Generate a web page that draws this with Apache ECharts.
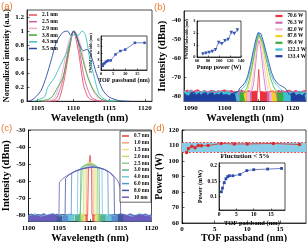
<!DOCTYPE html>
<html><head><meta charset="utf-8">
<script src="https://cdn.jsdelivr.net/npm/echarts@6/dist/echarts.min.js"></script>
<style>html,body{margin:0;padding:0;background:#fff}#c{width:307px;height:242px}</style>
</head><body><div id="c"></div>
<script>
const SERIF='"Liberation Serif","Times New Roman",serif';
const fl=(x0,dx,vals)=>vals.map((v,i)=>[+(x0+i*dx).toFixed(2),v]);

// ---------- (a) normalized spectra ----------
const aNames=['2.1 nm','2.5 nm','2.9 nm','3.8 nm','4.3 nm','5.5 nm'];
const aColors=['#e5505c','#d25fa3','#f2a9cc','#3aa83a','#3dbfc4','#2b4aa6'];
const a21=[[1106.5,0],[1107.5,0.005],[1108,0.03],[1108.7,0.3],[1109.4,0.71],[1110,1],[1110.7,0.71],[1111.4,0.24],[1112.1,0.05],[1113,0.01],[1114.5,0]];
const a25=[[1106,0],[1107.5,0.03],[1108.5,0.3],[1109.3,0.75],[1109.8,0.95],[1110.1,1],[1110.4,0.96],[1110.8,0.75],[1111.6,0.3],[1112.5,0.06],[1113.5,0.01],[1115,0]];
const a29=[[1105.5,0],[1107.2,0.03],[1108.2,0.3],[1109.2,0.8],[1109.8,0.97],[1110.1,1],[1110.5,0.95],[1111,0.8],[1112,0.35],[1113,0.1],[1114,0.02],[1115.5,0]];
const a38=[[1105,0],[1106.2,0.02],[1106.9,0.05],[1107.8,0.2],[1108.5,0.33],[1109.1,0.6],[1109.5,0.8],[1109.8,0.95],[1110.1,1],[1110.6,0.89],[1111.2,0.64],[1111.9,0.38],[1112.8,0.16],[1113.9,0.03],[1115,0.005],[1116.5,0]];
const a43=[[1104.5,0],[1105.3,0.03],[1106,0.07],[1106.4,0.2],[1107.3,0.33],[1108.2,0.52],[1109.1,0.71],[1109.8,0.93],[1110.3,0.96],[1110.6,0.93],[1111.2,1],[1111.5,0.98],[1111.8,0.9],[1112.3,0.6],[1113,0.31],[1113.6,0.1],[1114.5,0.02],[1116,0]];
const a55=[[1103.6,0],[1104.2,0.02],[1104.8,0.07],[1105.5,0.16],[1106.2,0.35],[1106.9,0.59],[1107.6,0.84],[1108.5,0.98],[1109.2,1],[1109.6,0.94],[1110,1],[1110.4,0.93],[1110.7,0.84],[1111.4,0.72],[1111.9,0.74],[1112.5,0.64],[1113.2,0.4],[1114.1,0.16],[1115,0.06],[1116.4,0.01],[1118,0]];
const aCurves=[a21,a25,a29,a38,a43,a55];
const tofPass=[0.7,1,1.5,2,2.5,3,4,6,8,10,14,18];
const fwhmA=[2.1,2.4,2.5,2.7,2.8,2.9,2.9,3.8,4.3,4.5,5.5,5.5];

// ---------- (b) power-dependent spectra ----------
const bNames=['70.6 W','76.3 W','82.0 W','87.8 W','99.4 W','122.3 W','133.4 W'];
const bColors=['#e8323c','#cf6cb0','#f2b4d4','#f2d21e','#3cac3c','#3cc0d2','#1f3f9f'];
const pumpB=[70.6,76.3,82.0,87.8,93.6,99.4,105.1,110.8,116.6,122.3,127.9,133.4];
const fwhmB=[0.25,0.32,0.38,0.45,0.6,1.2,1.1,1.35,1.45,2.05,1.95,2.25];
const b1L=fl(1088,1,[-77.8,-77.0,-78.2,-77.5,-76.8,-77.9,-77.3,-78.0,-77.1,-77.7,-78.3,-77.4,-76.9,-77.8,-77.2,-78.1,-77.6,-77.0,-77.9,-77.3,-78.0,-77.5]).concat([[1109.3,-77.2],[1109.7,-77.9]]);
const b1P=[[1109.8,-73],[1110.05,-66],[1110.3,-73]];
const b1R=[[1110.4,-77.6],[1110.8,-77.1]].concat(fl(1111.2,0.5,[-77.9,-77.3,-78.1,-77.6]),fl(1114,1,[-77.4,-77.9,-77.1,-78.2,-77.6,-77.0,-77.8,-77.3,-78.0,-77.5,-77.2]));
const b2L=fl(1088,1,[-77.3,-78.1,-76.9,-77.8,-77.4,-78.3,-77.1,-77.9,-77.5,-78.4,-77.2,-77.7,-78.0,-77.3,-78.2,-77.6,-77.9,-77.4,-78.1,-77.7]).concat([[1107.5,-78.0],[1108,-77.5]]);
const b2P=[[1108.5,-74],[1109.1,-64],[1109.6,-55],[1110.1,-50.5],[1110.5,-53],[1111,-61],[1111.6,-70.5],[1112.1,-77]];
const b2R=fl(1112.5,0.5,[-78.2,-77.6,-78.0]).concat(fl(1114,1,[-77.4,-78.3,-77.7,-77.1,-78.0,-77.5,-78.2,-77.3,-77.9,-77.6,-78.1]));
const b3L=fl(1106.5,0.5,[-78.1,-77.5,-78.3]);
const b3P=[[1107.9,-75],[1108.5,-68],[1109.2,-58],[1109.7,-51.5],[1110.1,-48.8],[1110.5,-50],[1111.1,-56.5],[1111.7,-65],[1112.3,-72.5],[1112.8,-77]];
const b3R=fl(1113.2,0.5,[-78.4,-77.7,-78.2]);
const b4L=fl(1105.5,0.5,[-77.9,-78.4,-77.7]);
const b4P=[[1107,-76],[1107.6,-71.5],[1108.3,-64],[1109.1,-55],[1109.7,-49.5],[1110.1,-47.8],[1110.6,-48.8],[1111.3,-54.5],[1112,-62],[1112.7,-69.5],[1113.3,-75],[1113.7,-77.5]];
const b4R=fl(1114,0.5,[-78.3,-77.6,-78.5,-77.9]);
const b5L=fl(1104.5,0.5,[-78.3,-77.6,-78.5,-77.9]);
const b5P=[[1106.5,-76],[1107.2,-72],[1108,-65],[1108.8,-57.5],[1109.5,-51],[1110.1,-47.3],[1110.6,-48],[1111.3,-52.5],[1112,-58.5],[1112.8,-65],[1113.5,-70.5],[1114.3,-74.5],[1115,-77]];
const b5R=fl(1115.5,0.5,[-78.1,-77.4,-78.6,-77.8,-78.2]);
const b6L=fl(1088,1,[-77.6,-78.4,-77.2,-78.9,-77.8,-78.1,-77.4,-78.6,-77.9,-77.3,-78.5,-77.7,-78.2,-77.5,-78.8]).concat(fl(1102.5,0.5,[-77.9,-78.6,-77.8,-78.3,-77.6]));
const b6P=[[1105,-76.5],[1105.6,-75.5],[1106.4,-73.5],[1107.2,-68.5],[1108,-62],[1108.8,-55],[1109.5,-49.5],[1110.1,-46.6],[1110.6,-47.5],[1111.3,-51.5],[1112,-57],[1112.8,-63],[1113.6,-68.5],[1114.4,-72],[1115.2,-74],[1116,-75.5],[1116.8,-77]];
const b6R=fl(1117.3,0.5,[-78.2,-77.5,-78.7,-77.9,-78.4]).concat(fl(1120,1,[-77.6,-78.8,-77.4,-78.3,-77.9]));
const b7L=fl(1088,0.5,[-78.4,-79.6,-78.9,-80.2,-78.6,-79.3,-78.1,-79.8,-79.0,-78.5,-80.0,-78.8,-79.4,-78.3,-79.9,-78.7,-79.2,-78.4,-80.1,-79.0,-78.6,-79.5,-78.2,-79.7,-78.9,-79.3,-78.5,-80.0,-78.8,-79.1,-78.4,-78.9]);
const b7P=[[1104,-77.5],[1104.5,-75.8],[1105.2,-74.8],[1106,-73],[1106.8,-69.5],[1107.6,-63.5],[1108.4,-56.5],[1109.2,-50],[1109.8,-46.5],[1110.2,-45.6],[1110.7,-47],[1111.4,-51],[1112.2,-56.5],[1113,-62],[1113.8,-67.5],[1114.6,-71],[1115.4,-73],[1116.2,-74.2],[1117,-75],[1117.8,-75.8],[1118.5,-77.5],[1119,-79.3]];
const b7R=fl(1119.5,0.5,[-78.7,-79.5,-78.3,-79.9,-78.9,-79.2,-78.5,-80.0,-78.8,-79.3]);
const bSpec=[[b1L,b1P,b1R],[b2L,b2P,b2R],[b3L,b3P,b3R],[b4L,b4P,b4R],[b5L,b5P,b5R],[b6L,b6P,b6R],[b7L,b7P,b7R]];

// ---------- (c) filtered spectra ----------
const cNames=['0.7 nm','1.0 nm','1.5 nm','2.0 nm','2.5 nm ','3.0 nm','4.0 nm','6.0 nm','8.0 nm','10 nm'];
const cColors=['#e63c3c','#f4a374','#f2e38a','#c5df6e','#8fd08c','#58b48e','#6fc6d8','#5a8fd2','#47559f','#6b5bbf'];
const c1L=[[1109.0,-80.3],[1109.3,-79.7],[1109.62,-80.1]];
const c1P=[[1109.68,-80],[1109.74,-55],[1109.86,-50],[1110,-45],[1110.14,-50],[1110.26,-55],[1110.32,-80]];
const c1R=[[1110.38,-79.8],[1110.7,-80.3],[1111,-79.9]];
const c2L=[[1109.0,-79.9],[1109.25,-80.4],[1109.42,-79.7]];
const c2P=[[1109.47,-80],[1109.53,-50.5],[1109.8,-49],[1110,-48.2],[1110.2,-49],[1110.47,-50.5],[1110.53,-80]];
const c2R=[[1110.58,-80.2],[1110.9,-79.6],[1111.2,-80.1]];
const c3L=[[1108.7,-80.2],[1109,-79.7],[1109.17,-80.1]];
const c3P=[[1109.22,-80],[1109.28,-50.5],[1109.7,-49.2],[1110,-48.8],[1110.3,-49.2],[1110.72,-50.6],[1110.78,-80]];
const c3R=[[1110.83,-79.8],[1111.2,-80.3],[1111.5,-79.9]];
const c4L=[[1108.4,-79.8],[1108.7,-80.3],[1108.92,-79.6]];
const c4P=[[1108.97,-80],[1109.03,-50.8],[1109.5,-49.8],[1110,-49.4],[1110.5,-49.8],[1110.97,-51],[1111.03,-80]];
const c4R=[[1111.08,-80.1],[1111.5,-79.7],[1111.8,-80.2]];
const c5L=[[1108,-80.1],[1108.4,-79.6],[1108.67,-80.2]];
const c5P=[[1108.72,-80],[1108.78,-51.5],[1109.4,-50.4],[1110,-50],[1110.6,-50.4],[1111.22,-51.6],[1111.28,-80]];
const c5R=[[1111.33,-79.7],[1111.7,-80.3],[1112.1,-79.9]];
const c6L=[[1107.5,-79.9],[1108,-80.3],[1108.42,-79.7]];
const c6P=[[1108.47,-80],[1108.53,-52.2],[1109.2,-51],[1110,-50.5],[1110.8,-51],[1111.47,-52.3],[1111.53,-80]];
const c6R=[[1111.58,-80.2],[1112.1,-79.8],[1112.6,-80.4]];
const c7L=fl(1100,1,[-80.6,-79.5,-80.8,-80.2,-79.4,-80.7,-80.1]).concat([[1106.5,-80.2],[1107,-79.6],[1107.45,-80.1]]);
const c7P=[[1107.95,-80],[1108.02,-53.8],[1108.8,-52.5],[1109.6,-51.8],[1110.4,-51.5],[1111.2,-51.9],[1111.95,-53.2],[1112.02,-80]];
const c7R=[[1112.5,-79.8],[1113,-80.4],[1113.5,-79.9]].concat(fl(1114,1,[-80.6,-79.4,-80.3,-80.8,-79.5,-80.2,-80.7]));
const c8L=[[1105.5,-79.9],[1106,-80.4],[1106.45,-79.7]];
const c8P=[[1106.95,-80],[1107.02,-55.5],[1107.7,-54],[1108.5,-53],[1109.5,-52.2],[1110.5,-51.8],[1111.5,-52.2],[1112.3,-53.2],[1112.9,-55],[1112.98,-80]];
const c8R=[[1113.5,-80.2],[1114,-79.7],[1114.5,-80.3]];
const c9L=[[1104.5,-79.7],[1105,-80.3],[1105.45,-79.8]];
const c9P=[[1105.95,-80],[1106.02,-58.5],[1106.6,-56.5],[1107.5,-54.6],[1108.5,-53.2],[1109.5,-52.3],[1110.5,-51.9],[1111.5,-52.3],[1112.5,-53.4],[1113.3,-55.3],[1113.9,-58],[1113.98,-80]];
const c9R=[[1114.5,-80.1],[1115,-79.6],[1115.5,-80.4]];
const c10L=fl(1100,0.5,[-80.4,-79.6,-80.8,-79.9,-80.2,-79.4,-80.6,-80.0,-79.7,-80.3]);
const c10P=[[1104.95,-80],[1105.02,-61],[1105.6,-58.6],[1106.5,-56.3],[1107.5,-54.5],[1108.5,-53.2],[1109.5,-52.4],[1110.5,-52],[1111.5,-52.4],[1112.5,-53.5],[1113.3,-55.2],[1114,-57.5],[1114.6,-60.5],[1114.92,-64],[1114.98,-80]];
const c10R=fl(1115.5,0.5,[-79.8,-80.5,-79.5,-80.2,-80.7,-79.9,-80.3,-79.6,-80.5,-80.0]);
const cSpec=[[c1L,c1P,c1R],[c2L,c2P,c2R],[c3L,c3P,c3R],[c4L,c4P,c4R],[c5L,c5P,c5R],[c6L,c6P,c6R],[c7L,c7P,c7R],[c8L,c8P,c8R],[c9L,c9P,c9R],[c10L,c10P,c10R]];

// ---------- (d) output power ----------
const powW=[105.5,108,109.5,108.5,110,109.8,110,111.3,111,111,111.3,110.6];
const powMW=[0.115,0.127,0.145,0.158,0.165,0.168,0.168,0.172,0.185,0.188,0.19,0.192];
const bandD=[105.8,111.8];

// ---------- helpers ----------
function axis(gi,min,max,ticks,o){
  o=o||{};
  return {type:'value',gridIndex:gi,min:min,max:max,
    axisLine:{show:true,onZero:false,lineStyle:{color:'#000',width:0.7}},
    axisTick:{show:true,inside:true,length:o.tl||2.5,customValues:ticks,lineStyle:{color:'#000',width:0.6}},
    axisLabel:{show:true,customValues:ticks,formatter:v=>String(v),margin:o.m||3,fontFamily:SERIF,fontWeight:'bold',fontSize:o.fs||7,color:'#000'},
    splitLine:{show:false},
    name:o.name||'',nameLocation:'middle',nameGap:o.gap||12,
    nameTextStyle:{fontFamily:SERIF,fontWeight:'bold',fontSize:o.ns||10,color:'#000'}};
}
function grid(l,t,w,h,bg){return {left:l,top:t,width:w,height:h,show:true,borderColor:'#000',borderWidth:0.7,backgroundColor:bg||'transparent',containLabel:false,outerBoundsMode:'none'};}
function spec(ai,name,color,L,P,R,w){
  return [
    {type:'line',xAxisIndex:ai,yAxisIndex:ai,data:L.concat([[P[0][0],null]],R),symbol:'none',
      lineStyle:{width:0.5,color:color},itemStyle:{color:color},areaStyle:{color:color,opacity:1,origin:'start'},silent:true},
    {type:'line',name:name,xAxisIndex:ai,yAxisIndex:ai,data:L.concat(P,R),symbol:'none',
      lineStyle:{width:w,color:color},itemStyle:{color:color},silent:true}
  ];
}
function legendOf(names,pos,o){
  return Object.assign({data:names,orient:'vertical',icon:'rect',itemWidth:8,itemHeight:1.5,itemGap:0.7,
    padding:0,selectedMode:false,formatter:n=>n.trim(),
    textStyle:{fontFamily:SERIF,fontWeight:'bold',fontSize:5.5,lineHeight:6,color:'#000'}},pos,o||{});
}

const series=[];
aCurves.forEach((d,i)=>series.push({type:'line',name:aNames[i],xAxisIndex:0,yAxisIndex:0,data:d,symbol:'none',smooth:0.25,
  lineStyle:{width:0.9,color:aColors[i]},itemStyle:{color:aColors[i]},silent:true}));
bSpec.forEach((s,i)=>spec(1,bNames[i],bColors[i],s[0],s[1],s[2],0.8).forEach(x=>series.push(x)));
cSpec.forEach((s,i)=>spec(2,cNames[i],cColors[i],s[0],s[1],s[2],0.8).forEach(x=>series.push(x)));
series.push({type:'line',xAxisIndex:3,yAxisIndex:3,data:tofPass.map((x,i)=>[x,powW[i]]),symbol:'circle',symbolSize:3.5,z:4,
  itemStyle:{color:'#e02a2a'},lineStyle:{color:'#e02a2a',width:0.8},silent:true,
  markArea:{silent:true,itemStyle:{color:'#88cde8',opacity:1},data:[[{yAxis:bandD[0]},{yAxis:bandD[1]}]]},
  markLine:{silent:true,symbol:'none',label:{show:false},lineStyle:{color:'#e02a2a',type:[2,1.5],width:0.8},data:[{yAxis:bandD[0]},{yAxis:bandD[1]}]}});
series.push({type:'line',xAxisIndex:4,yAxisIndex:4,data:tofPass.map((x,i)=>[x,fwhmA[i]]),symbol:'rect',symbolSize:2.5,
  itemStyle:{color:'#3555b5'},lineStyle:{color:'#3555b5',width:0.7},silent:true});
series.push({type:'line',xAxisIndex:5,yAxisIndex:5,data:pumpB.map((x,i)=>[x,fwhmB[i]]),symbol:'triangle',symbolRotate:180,symbolSize:3.5,
  itemStyle:{color:'#3555b5'},lineStyle:{color:'#3555b5',width:0.7},silent:true});
series.push({type:'line',xAxisIndex:6,yAxisIndex:6,data:tofPass.map((x,i)=>[x,powMW[i]]),symbol:'rect',symbolSize:2.8,
  itemStyle:{color:'#2b4aa8'},lineStyle:{color:'#2b4aa8',width:0.7},silent:true});

const option={
  animation:false,backgroundColor:'#fff',
  grid:[grid(27,10,125,91.3),grid(184,11,122,90.5),grid(28.5,130,123,91.5),grid(182,130,124,93),
        grid(101,36,46,34,'#fff'),grid(197,21,44,36,'#fff'),grid(219,163,66,47,'#fff')],
  xAxis:[
    axis(0,1103.5,1121,[1105,1110,1115,1120],{name:'Wavelength (nm)',gap:11,ns:10.5}),
    axis(1,1088,1124,[1090,1100,1110,1120],{name:'Wavelength (nm)',gap:11,ns:10.5}),
    axis(2,1100,1120,[1100,1105,1110,1115,1120],{name:'Wavelength (nm)',gap:10,ns:10.5}),
    axis(3,0,19,[0,5,10,15],{name:'TOF passband (nm)',gap:9,ns:10}),
    axis(4,0,19,[0,5,10,15],{name:'TOF passband (nm)',gap:6,ns:6,fs:4.5,m:1.5,tl:1.5}),
    axis(5,60,140,[60,80,100,120,140],{name:'Pump power (W)',gap:6,ns:6,fs:4.5,m:1.5,tl:1.5}),
    axis(6,0,19,[0,5,10,15],{name:'TOF passband (nm)',gap:9.5,ns:6.5,fs:5.5,m:1.5,tl:1.5})
  ],
  yAxis:[
    axis(0,0,1.3,[0,0.2,0.4,0.6,0.8,1,1.2],{name:'Normalized intensity (a.u.)',gap:11.5,ns:8.2}),
    axis(1,-83,-35,[-80,-70,-60,-50,-40],{name:'Intensity (dBm)',gap:15,ns:10.5}),
    axis(2,-84,-30,[-80,-70,-60,-50,-40,-30],{name:'Intensity (dBm)',gap:14.5,ns:10.5}),
    axis(3,60,120,[60,70,80,90,100,110,120],{name:'Power (W)',gap:13.5,ns:10}),
    axis(4,1.5,6.5,[2,3,4,5,6],{name:'FWHM linewidth (nm)',gap:5,ns:4,fs:4.5,m:1.5,tl:1.5}),
    axis(5,0,3,[0,1,2,3],{name:'FWHM linewidth (nm)',gap:5,ns:4,fs:4.5,m:1.5,tl:1.5}),
    axis(6,0.055,0.21,[0.1,0.15,0.2],{name:'Power (mW)',gap:15,ns:6,fs:5.5,m:2,tl:1.5})
  ],
  legend:[
    legendOf(aNames,{left:29,top:12}),
    legendOf(bNames,{right:1,top:13},{itemHeight:2.2,itemWidth:7,textStyle:{fontFamily:SERIF,fontWeight:'bold',fontSize:5.3,lineHeight:6,color:'#000'}}),
    legendOf(cNames,{left:120,top:131},{itemWidth:7,itemGap:0.8,padding:[2,2,2,2],borderColor:'#000',borderWidth:0.6,backgroundColor:'#fff',
      textStyle:{fontFamily:SERIF,fontWeight:'bold',fontSize:5.2,lineHeight:6,color:'#000'}})
  ],
  graphic:[
    {type:'text',left:1,top:1,z:10,style:{text:'(a)',font:'9.5px "Liberation Sans", Arial, sans-serif',fill:'#e8782c'}},
    {type:'text',left:154,top:2,z:10,style:{text:'(b)',font:'9.5px "Liberation Sans", Arial, sans-serif',fill:'#e8782c'}},
    {type:'text',left:1,top:123,z:10,style:{text:'(c)',font:'9.5px "Liberation Sans", Arial, sans-serif',fill:'#e8782c'}},
    {type:'text',left:153,top:123,z:10,style:{text:'(d)',font:'9.5px "Liberation Sans", Arial, sans-serif',fill:'#e8782c'}},
    {type:'text',x:245,y:153,z:10,style:{text:'Fluctution < 5%',font:'bold 7px '+SERIF,fill:'#000',align:'center',verticalAlign:'top'}}
  ],
  series:series
};
const chart=echarts.init(document.getElementById('c'),null,{renderer:'canvas'});
chart.setOption(option);
</script></body></html>
